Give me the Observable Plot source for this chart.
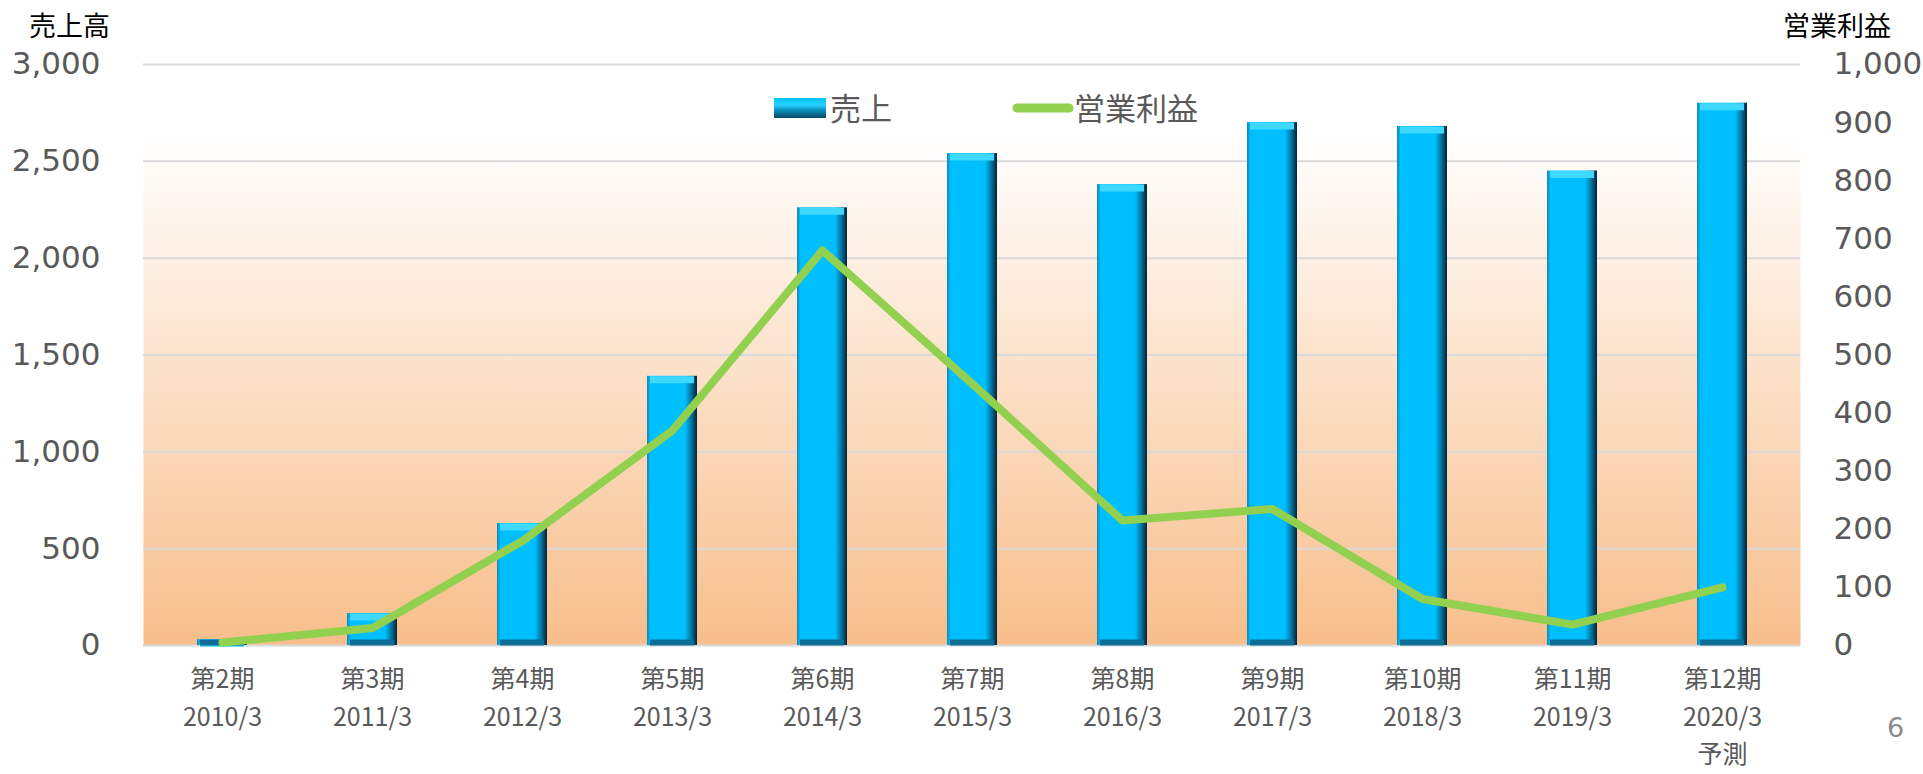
<!DOCTYPE html>
<html>
<head>
<meta charset="utf-8">
<script src="https://cdn.jsdelivr.net/npm/d3@7"></script>
<script src="https://cdn.jsdelivr.net/npm/@observablehq/plot@0.6"></script>
<style>
  html, body { margin: 0; padding: 0; background: #fff; }
  #wrap { position: relative; width: 1923px; height: 774px; overflow: hidden; }
  .ov { position: absolute; white-space: nowrap; font-family: "Noto Sans CJK JP", sans-serif; }
</style>
</head>
<body>
<div id="wrap"></div>
<script>
// ---- data ----
const periods = ["第2期","第3期","第4期","第5期","第6期","第7期","第8期","第9期","第10期","第11期","第12期"];
const fiscalYears = ["2010/3","2011/3","2012/3","2013/3","2014/3","2015/3","2016/3","2017/3","2018/3","2019/3","2020/3"];
const notes = ["","","","","","","","","","","予測"];
const sales = [30, 165, 630, 1390, 2260, 2540, 2380, 2700, 2680, 2450, 2800];
const operatingProfit = [5, 30, 180, 370, 680, 450, 215, 235, 80, 36, 100];
const salesTicks = [0, 500, 1000, 1500, 2000, 2500, 3000];
const profitTicks = [0, 100, 200, 300, 400, 500, 600, 700, 800, 900, 1000];
const ratio = salesTicks[salesTicks.length - 1] / profitTicks[profitTicks.length - 1];

const data = periods.map((p, i) => ({period: p, year: fiscalYears[i], note: notes[i], sales: sales[i], profit: operatingProfit[i]}));

const chart = Plot.plot({
  width: 1923,
  height: 774,
  marginTop: 64,
  marginBottom: 129,
  marginLeft: 143,
  marginRight: 123,
  style: {fontFamily: "DejaVu Sans, sans-serif", fontSize: "31px", color: "#595959", background: "transparent", overflow: "visible"},
  x: {domain: periods, padding: 0},
  y: {domain: [0, salesTicks[salesTicks.length - 1]]},
  marks: [
    Plot.frame({fill: "url(#bgGrad)", stroke: null}),
    Plot.gridY(salesTicks, {stroke: "#D9D9D9", strokeOpacity: 1, strokeWidth: 2}),
    Plot.barY(data, {x: "period", y: "sales", fill: "url(#barGrad)", insetLeft: 50, insetRight: 50}),
    Plot.tickY(data, {x: "period", y: "sales", stroke: "#3FD9FF", strokeWidth: 7, dy: 3.5, insetLeft: 53, insetRight: 53}),
    Plot.tickY(data, {x: "period", y: 0, stroke: "#0C6E96", strokeWidth: 6, dy: -3, insetLeft: 53, insetRight: 53}),
    Plot.lineY(data, {x: "period", y: d => d.profit * ratio, stroke: "#92D050", strokeWidth: 8, strokeLinecap: "round", strokeLinejoin: "round"}),
    Plot.axisY(salesTicks, {anchor: "left", tickFormat: d3.format(","), tickSize: 0, tickPadding: 43, label: null, fontSize: 31}),
    Plot.axisY(profitTicks.map(v => v * ratio), {anchor: "right", tickFormat: d => d3.format(",")(d / ratio), tickSize: 0, tickPadding: 33, label: null, fontSize: 31}),
    Plot.axisX({anchor: "bottom", tickSize: 0, tickPadding: 16, label: null, fontSize: 25, lineHeight: 1.5,
      fontFamily: "Noto Sans CJK JP, sans-serif",
      tickFormat: (d) => { const r = data.find(o => o.period === d); return d + "\n" + r.year + (r.note ? "\n" + r.note : ""); }})
  ]
});

const svg = d3.select(chart);
const defs = svg.insert("defs", ":first-child");
const bg = defs.append("linearGradient").attr("id", "bgGrad").attr("x1", 0).attr("y1", 0).attr("x2", 0).attr("y2", 1);
bg.append("stop").attr("offset", "0%").attr("stop-color", "#FFFFFF");
bg.append("stop").attr("offset", "12%").attr("stop-color", "#FFFFFF");
bg.append("stop").attr("offset", "100%").attr("stop-color", "#F8BE8B");
const bar = defs.append("linearGradient").attr("id", "barGrad").attr("x1", 0).attr("y1", 0).attr("x2", 1).attr("y2", 0);
[["0%","#1584B5"],["7%","#00BFFF"],["76%","#00BFFF"],["88%","#0677A3"],["100%","#062233"]].forEach(([o,c]) =>
  bar.append("stop").attr("offset", o).attr("stop-color", c));

const wrap = document.getElementById("wrap");
wrap.appendChild(chart);

function addText(txt, left, top, size, color, family) {
  const d = document.createElement("div");
  d.className = "ov";
  d.textContent = txt;
  d.style.left = left + "px";
  d.style.top = top + "px";
  d.style.fontSize = size + "px";
  d.style.lineHeight = size + "px";
  d.style.color = color;
  if (family) d.style.fontFamily = family;
  wrap.appendChild(d);
  return d;
}
addText("売上高", 29, 11, 27, "#000");
addText("営業利益", 1783, 11, 27, "#000");
addText("6", 1887, 714, 27, "#8C8C8C", "DejaVu Sans, sans-serif");

// legend
const leg = document.createElement("div");
leg.className = "ov";
leg.style.left = "774px"; leg.style.top = "92px";
leg.innerHTML = `
<svg width="52" height="20" style="position:absolute;left:0;top:6px">
  <rect x="0" y="0" width="52" height="20" fill="url(#legGrad)"/>
  <defs><linearGradient id="legGrad" x1="0" y1="0" x2="0" y2="1">
    <stop offset="0%" stop-color="#00BFFF"/><stop offset="35%" stop-color="#2AD4FF"/>
    <stop offset="60%" stop-color="#0A90C0"/><stop offset="100%" stop-color="#0B4A66"/></linearGradient></defs>
</svg>
<span style="position:absolute;left:56px;top:-1px;font-size:31px;line-height:32px;color:#595959">売上</span>
<svg width="62" height="14" style="position:absolute;left:238px;top:9px">
  <line x1="5" y1="7" x2="57" y2="7" stroke="#92D050" stroke-width="9" stroke-linecap="round"/>
</svg>
<span style="position:absolute;left:300px;top:-1px;font-size:31px;line-height:32px;color:#595959">営業利益</span>`;
wrap.appendChild(leg);
</script>
</body>
</html>
